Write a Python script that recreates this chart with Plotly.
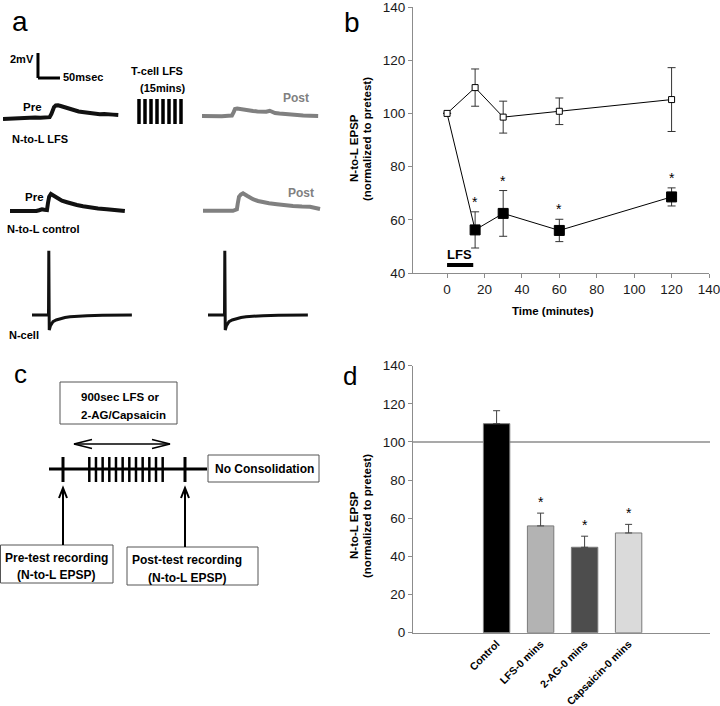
import plotly.graph_objects as go

W, H = 720, 706
FONT = "Liberation Sans, Arial, sans-serif"


def P(x):
    return x / W


def Q(y):
    return 1 - y / H


# ---------------- data ----------------
# panel a: representative traces (time in ms, voltage in mV relative to baseline)
lfs_pre_t = [0, 12, 25, 38, 50, 62, 73, 85, 97, 106, 110, 113, 116, 120, 125, 131, 136, 142, 148, 156,
             164, 172, 180, 190, 200, 210, 220, 230, 240, 250, 262]
lfs_pre_v = [0.0, 0.03, 0.05, 0.08, 0.06, 0.1, 0.12, 0.11, 0.14, 0.15, 0.4, 0.75, 0.95, 1.08, 1.1, 1.04,
             0.98, 0.9, 0.88, 0.74, 0.66, 0.6, 0.56, 0.5, 0.44, 0.42, 0.38, 0.4, 0.34, 0.35, 0.32]
lfs_post_t = [0, 15, 30, 45, 60, 68, 72, 75, 80, 86, 95, 105, 116, 126, 136, 146, 154, 160, 166, 176,
              186, 200, 215, 230, 245, 264]
lfs_post_v = [0.04, 0.02, 0.05, 0.03, 0.06, 0.08, 0.35, 0.6, 0.64, 0.62, 0.56, 0.5, 0.44, 0.4, 0.36,
              0.38, 0.46, 0.34, 0.28, 0.24, 0.2, 0.14, 0.1, 0.08, 0.06, 0.04]
ctl_pre_t = [0, 15, 30, 45, 52, 60, 66, 72.7, 78, 84, 86.4, 89, 93, 100, 109, 118, 129.5, 140, 152, 166,
             182, 200, 220, 240, 261]
ctl_pre_v = [0.04, 0.02, 0.0, 0.03, -0.02, 0.04, 0.1, 0.18, 0.14, 0.12, 0.7, 1.18, 1.4, 1.24, 0.98, 0.86,
             0.74, 0.62, 0.52, 0.42, 0.3, 0.24, 0.18, 0.1, 0.04]
ctl_post_t = [0, 15, 30, 45, 60, 68, 74, 77, 79, 81.8, 86, 90.9, 100, 113.6, 125, 136, 150, 168, 185,
              204.5, 225, 243, 266]
ctl_post_v = [0.02, 0.0, 0.03, 0.01, 0.02, 0.02, 0.08, 0.14, 0.6, 1.14, 1.32, 1.42, 1.22, 0.94, 0.8, 0.7,
              0.62, 0.54, 0.46, 0.4, 0.36, 0.34, 0.16]
ncell_t = [0, 37.5, 38.2, 39.2, 42, 47.7, 55, 63.6, 75, 86.4, 105, 125, 160, 227]
ncell_v = [0, 0, 5.14, -1.2, -0.85, -0.54, -0.4, -0.3, -0.2, -0.14, -0.08, -0.05, -0.02, 0]

# panel b
time_min = [0, 15, 30, 60, 120]
control_mean = [100, 109.7, 98.6, 100.8, 105.2]
control_err = [None, 7.0, 6.0, 5.0, 12.0]
lfs_mean = [100, 56.2, 62.4, 56.0, 68.6]
lfs_err = [None, 6.8, 8.6, 4.2, 3.4]
lfs_sig = [False, True, True, True, True]

# panel d
bar_labels = ["Control", "LFS-0 mins", "2-AG-0 mins", "Capsaicin-0 mins"]
bar_pos = [1, 2, 3, 4]
bar_values = [109.6, 56.0, 44.8, 52.3]
bar_err = [6.8, 6.7, 5.8, 4.5]
bar_sig = [False, True, True, True]
bar_colors = ["#000000", "#b3b3b3", "#4d4d4d", "#dadada"]

fig = go.Figure()
layout_axes = {}

# ---------------- panel a traces (own small axes, same scale) ----------------
PX_PER_MS = 0.44
PX_PER_MV = 12.5
T_RANGE = [0, 270]
V_RANGE = [-2, 6]

panel_a = [
    # (t, v, color, width, x0 px, baseline px)
    (lfs_pre_t, lfs_pre_v, "#111111", 4, 3, 119),
    (lfs_post_t, lfs_post_v, "#808080", 4, 202, 116.5),
    (ctl_pre_t, ctl_pre_v, "#111111", 4, 10, 211.5),
    (ctl_post_t, ctl_post_v, "#808080", 4, 203, 211),
    (ncell_t, ncell_v, "#111111", 3, 32, 315),
    (ncell_t, ncell_v, "#111111", 3, 208, 315),
]
for i, (t, v, col, lw, x0, base) in enumerate(panel_a):
    k = i + 3
    fig.add_trace(go.Scatter(x=t, y=v, mode="lines", line=dict(color=col, width=lw),
                             xaxis=f"x{k}", yaxis=f"y{k}", showlegend=False, hoverinfo="skip"))
    x1 = x0 + (T_RANGE[1] - T_RANGE[0]) * PX_PER_MS
    ytop = base - V_RANGE[1] * PX_PER_MV
    ybot = base - V_RANGE[0] * PX_PER_MV
    layout_axes[f"xaxis{k}"] = dict(domain=[P(x0), P(x1)], range=T_RANGE, visible=False,
                                    anchor=f"y{k}", fixedrange=True, automargin=False)
    layout_axes[f"yaxis{k}"] = dict(domain=[Q(ybot), Q(ytop)], range=V_RANGE, visible=False,
                                    anchor=f"x{k}", fixedrange=True, automargin=False)

# scale bar: 2 mV / 50 ms drawn in the first trace's scale
fig.add_shape(type="line", xref="x3", yref="y3", x0=79.5, x1=79.5, y0=3.28, y1=5.28,
              line=dict(color="black", width=3))
fig.add_shape(type="line", xref="x3", yref="y3", x0=79.5, x1=129.5, y0=3.28, y1=3.28,
              line=dict(color="black", width=3))

# ---------------- panel b ----------------
fig.add_trace(go.Scatter(
    x=time_min, y=lfs_mean, mode="lines+markers",
    line=dict(color="black", width=1),
    marker=dict(symbol="square", size=[0, 10, 10, 10, 10], color="#000000", opacity=1,
                line=dict(color="#000000", width=1)),
    error_y=dict(type="data", array=lfs_err, color="#333333", thickness=1, width=4),
    xaxis="x", yaxis="y", showlegend=False))
fig.add_trace(go.Scatter(
    x=time_min, y=control_mean, mode="lines+markers",
    line=dict(color="black", width=1),
    marker=dict(symbol="square", size=6, color="white", line=dict(color="black", width=1)),
    error_y=dict(type="data", array=control_err, color="#333333", thickness=1, width=4),
    xaxis="x", yaxis="y", showlegend=False))

for t, m, e, s in zip(time_min, lfs_mean, lfs_err, lfs_sig):
    if s:
        fig.add_annotation(x=t, y=m + e, xref="x", yref="y", text="*", showarrow=False,
                           yanchor="bottom", font=dict(family=FONT, size=14, color="#000000"))

# LFS bar
fig.add_shape(type="line", xref="x", yref="y", x0=0, x1=14, y0=43, y1=43,
              line=dict(color="black", width=4))
fig.add_annotation(x=6.7, y=46.8, xref="x", yref="y", text="<b>LFS</b>", showarrow=False,
                   font=dict(family=FONT, size=13, color="black"))

AX_COL = "#8c8c8c"
TICK_FONT = dict(family=FONT, size=13.5, color="#1a1a1a")
layout_axes["xaxis"] = dict(domain=[P(413), P(709)], range=[-18.2, 140], tickvals=list(range(0, 141, 20)),
                            showline=True, linecolor=AX_COL, linewidth=1, ticks="outside", ticklen=4,
                            tickcolor=AX_COL, showgrid=False, zeroline=False, tickfont=TICK_FONT,
                            anchor="y", fixedrange=True, automargin=False, ticklabeloverflow="allow")
layout_axes["yaxis"] = dict(domain=[Q(273), Q(7)], range=[40, 140], tickvals=list(range(40, 141, 20)),
                            showline=True, linecolor=AX_COL, linewidth=1, ticks="outside", ticklen=4,
                            tickcolor=AX_COL, showgrid=False, zeroline=False, tickfont=TICK_FONT,
                            anchor="x", fixedrange=True, automargin=False, ticklabeloverflow="allow")

# ---------------- panel d ----------------
fig.add_shape(type="line", xref="x2 domain", yref="y2", x0=0, x1=1, y0=100, y1=100,
              line=dict(color="#555555", width=1.2), layer="below")
fig.add_trace(go.Bar(
    x=bar_pos, y=bar_values, width=0.6,
    marker=dict(color=bar_colors, line=dict(color="#7a7a7a", width=1)),
    error_y=dict(type="data", array=bar_err, arrayminus=[0] * len(bar_err), symmetric=False,
                 color="#404040", thickness=1, width=3.5),
    xaxis="x2", yaxis="y2", showlegend=False))
for xp, v, e, s in zip(bar_pos, bar_values, bar_err, bar_sig):
    if s:
        fig.add_annotation(x=xp, y=v + e, xref="x2", yref="y2", text="*", showarrow=False,
                           yanchor="bottom", yshift=1, font=dict(family=FONT, size=14, color="black"))

layout_axes["xaxis2"] = dict(domain=[P(413), P(710)], range=[-0.9, 5.85], tickvals=bar_pos,
                             ticktext=[f"<b>{s}</b>" for s in bar_labels], tickangle=-45,
                             showline=True, linecolor=AX_COL, linewidth=1, ticks="",
                             showgrid=False, zeroline=False,
                             tickfont=dict(family=FONT, size=10.5, color="black"),
                             anchor="y2", fixedrange=True, automargin=False, ticklabeloverflow="allow")
layout_axes["yaxis2"] = dict(domain=[Q(632.7), Q(365.7)], range=[0, 140], tickvals=list(range(0, 141, 20)),
                             showline=True, linecolor=AX_COL, linewidth=1, ticks="outside", ticklen=4,
                             tickcolor=AX_COL, showgrid=False, zeroline=False, tickfont=TICK_FONT,
                             anchor="x2", fixedrange=True, automargin=False, ticklabeloverflow="allow")


# ---------------- annotations / diagram helpers ----------------
def txt(x, y, s, size=11, bold=True, color="black", angle=0, xanchor="center"):
    fig.add_annotation(x=P(x), y=Q(y), xref="paper", yref="paper",
                       text=f"<b>{s}</b>" if bold else s, showarrow=False,
                       font=dict(family=FONT, size=size, color=color), textangle=angle,
                       xanchor=xanchor, yanchor="middle")


def line(x0, y0, x1, y1, w=2, color="black"):
    fig.add_shape(type="line", xref="paper", yref="paper", x0=P(x0), y0=Q(y0), x1=P(x1), y1=Q(y1),
                  line=dict(color=color, width=w))


def poly(pts, w=2, color="black"):
    path = "M " + " L ".join(f"{P(x)},{Q(y)}" for x, y in pts)
    fig.add_shape(type="path", xref="paper", yref="paper", path=path,
                  line=dict(color=color, width=w))


def box(x0, y0, x1, y1):
    fig.add_shape(type="rect", xref="paper", yref="paper", x0=P(x0), y0=Q(y1), x1=P(x1), y1=Q(y0),
                  line=dict(color="#555555", width=1), fillcolor="white", layer="below")


# panel letters
txt(20, 22, "a", size=28, bold=False)
txt(352, 23, "b", size=28, bold=False)
txt(20, 374, "c", size=26, bold=False)
txt(350, 376, "d", size=26, bold=False)

# panel a labels
txt(8, 59, "2mV", size=11, xanchor="left")
txt(61, 77, "50msec", size=11, xanchor="left")
txt(157, 71, "T-cell LFS", size=11)
txt(163, 88, "(15mins)", size=11)
txt(32, 107, "Pre", size=11.5)
txt(40, 139, "N-to-L LFS", size=11)
txt(296, 98, "Post", size=12, color="#808080")
txt(34, 197, "Pre", size=11.5)
txt(43, 229, "N-to-L control", size=11)
txt(301, 193, "Post", size=12, color="#808080")
txt(24, 335, "N-cell", size=11)

# T-cell LFS stimulus bars
for i in range(8):
    cx = 139 + i * 6
    line(cx, 99, cx, 124, w=3.5)

# panel b axis titles
txt(553, 311, "Time (minutes)", size=11.5)
txt(354, 148, "N-to-L EPSP", size=11.5, angle=-90)
txt(367, 139, "(normalized to pretest)", size=11.5, angle=-90)

# panel d axis titles
txt(354, 525, "N-to-L EPSP", size=11.5, angle=-90)
txt(367, 516, "(normalized to pretest)", size=11.5, angle=-90)

# ---------------- panel c diagram ----------------
box(60, 382, 177, 424)
txt(79, 397, "900sec LFS or", size=11.5, xanchor="left")
txt(79, 415, "2-AG/Capsaicin", size=11.5, xanchor="left")

# double arrow
line(74, 444, 170, 444, w=1.5)
poly([(92, 439.5), (74, 444), (92, 448.5)], w=1.5)
poly([(152, 439.5), (170, 444), (152, 448.5)], w=1.5)

# time line
line(49, 469, 207, 469, w=3)
line(63, 457, 63, 482, w=3)
line(185, 457, 185, 482, w=3)
for i in range(12):
    cx = 89.3 + i * 6.67
    line(cx, 457, cx, 482, w=2.5)

box(208, 455, 319, 482)
txt(264, 469, "No Consolidation", size=12)

# recording arrows
line(63, 545, 63, 488, w=2)
poly([(59, 498), (63, 488), (67, 498)], w=2)
line(185, 547, 185, 488, w=2)
poly([(181, 498), (185, 488), (189, 498)], w=2)

box(0.5, 545, 113, 583)
txt(56, 558, "Pre-test recording", size=12)
txt(56, 575, "(N-to-L EPSP)", size=12)
box(127, 547, 258, 585)
txt(187, 560, "Post-test recording", size=12)
txt(187, 578, "(N-to-L EPSP)", size=12)

fig.update_layout(
    width=W, height=H, autosize=False,
    margin=dict(l=0, r=0, t=0, b=0, pad=0, autoexpand=False),
    paper_bgcolor="white", plot_bgcolor="rgba(0,0,0,0)",
    font=dict(family=FONT, color="black"),
    showlegend=False,
    bargap=0.4,
    **layout_axes,
)

fig.write_html(
    "out.html",
    config={"displayModeBar": False, "staticPlot": True},
    post_script="document.body.style.margin='0';document.body.style.padding='0';"
                "document.body.style.overflow='hidden';",
)
